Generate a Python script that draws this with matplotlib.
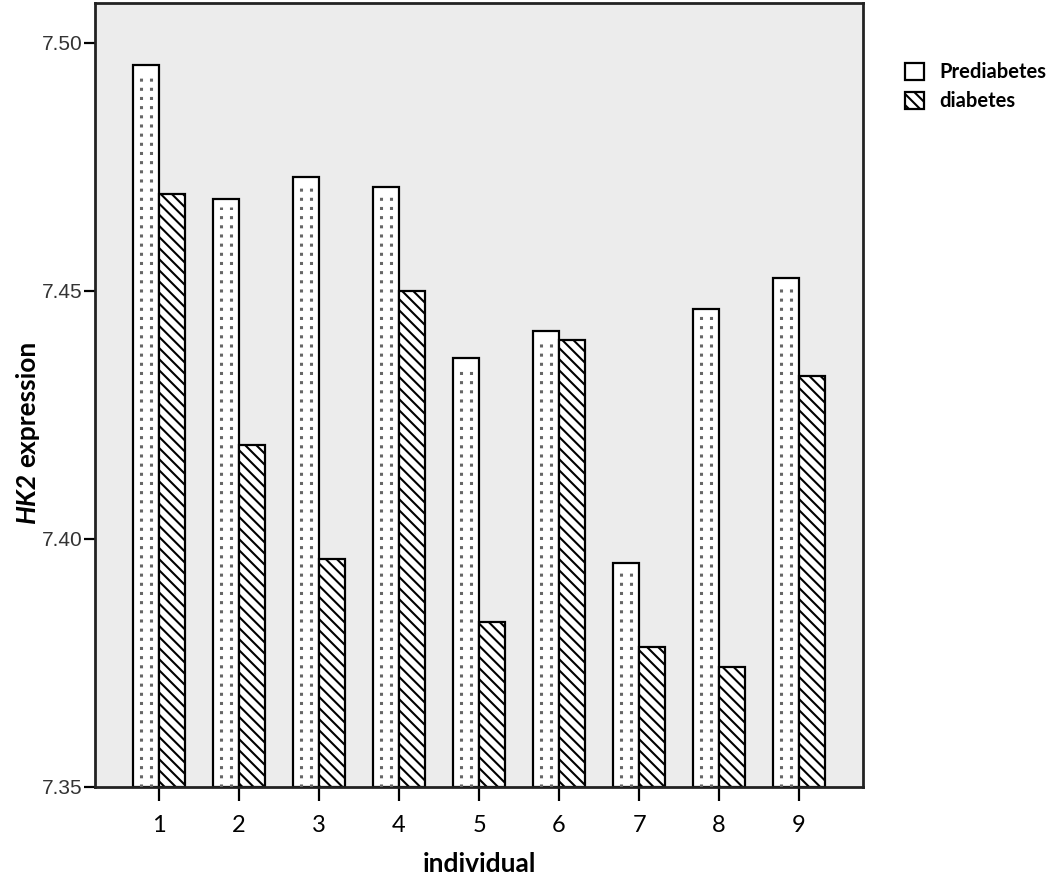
import numpy as np
import matplotlib
matplotlib.use("Agg")
import matplotlib.pyplot as plt

# values
individuals = ["1", "2", "3", "4", "5", "6", "7", "8", "9"]
prediabetes = [7.4954, 7.4684, 7.4730, 7.4710, 7.4364, 7.4418, 7.3952, 7.4464, 7.4526]
diabetes = [7.4694, 7.4189, 7.3960, 7.4500, 7.3833, 7.4400, 7.3782, 7.3742, 7.4329]

plt.rcParams["hatch.linewidth"] = 1.5

fig = plt.figure(figsize=(10.5, 8.8), dpi=100)
ax = fig.add_axes([0.0905, 0.1057, 0.7315, 0.891])
ax.set_facecolor("#ececec")

x = np.arange(1, len(individuals) + 1)
w = 0.33
base = 7.35

ax.bar(x - w / 2, np.array(prediabetes) - base, w, bottom=base, color="white",
       edgecolor="black", linewidth=1.6, label="Prediabetes", zorder=2)
ax.bar(x + w / 2, np.array(diabetes) - base, w, bottom=base, color="white",
       edgecolor="black", linewidth=1.6, hatch="\\\\\\", label="diabetes", zorder=2)

# dotted pattern inside the prediabetes bars
for frac in [0.3, 0.68]:
    ax.vlines(x - w + frac * w, base, np.array(prediabetes) - 0.0015, colors="#666666",
              linestyles=(0, (1, 2)), linewidth=2.2, zorder=3)

ax.set_xlim(0.2, 9.8)
ax.set_ylim(7.35, 7.508)
ax.set_xticks(x)
ax.set_xticklabels(individuals, fontfamily="Lato", fontsize=17)
ax.set_yticks([7.35, 7.40, 7.45, 7.50])
ax.set_yticklabels(["7.35", "7.40", "7.45", "7.50"], fontfamily="Liberation Sans",
                   fontsize=15, color="#333333")
ax.tick_params(axis="x", direction="out", length=10, width=1.6, pad=10)
ax.tick_params(axis="y", direction="out", length=8, width=1.6, pad=1)
for s in ax.spines.values():
    s.set_linewidth(2)
    s.set_color("#222222")

ax.set_xlabel("individual", fontfamily="Lato", fontweight="bold", fontsize=19, labelpad=12)

# y label with italic gene name
split = 1 - 472 / 880
fig.text(0.026, split, "HK2", rotation=90, ha="center", va="top",
         fontfamily="Lato", fontweight="bold", fontstyle="italic", fontsize=19)
fig.text(0.026, split + 0.006, "expression", rotation=90, ha="center", va="bottom",
         fontfamily="Lato", fontweight="bold", fontsize=19)

fig.legend(loc="upper left", bbox_to_anchor=(0.845, 0.95), frameon=False,
           prop={"family": "Lato", "weight": "bold", "size": 14.5},
           handlelength=0.9, handleheight=0.9, handletextpad=0.8, labelspacing=0.45)

fig.savefig("out.png", dpi=100)
